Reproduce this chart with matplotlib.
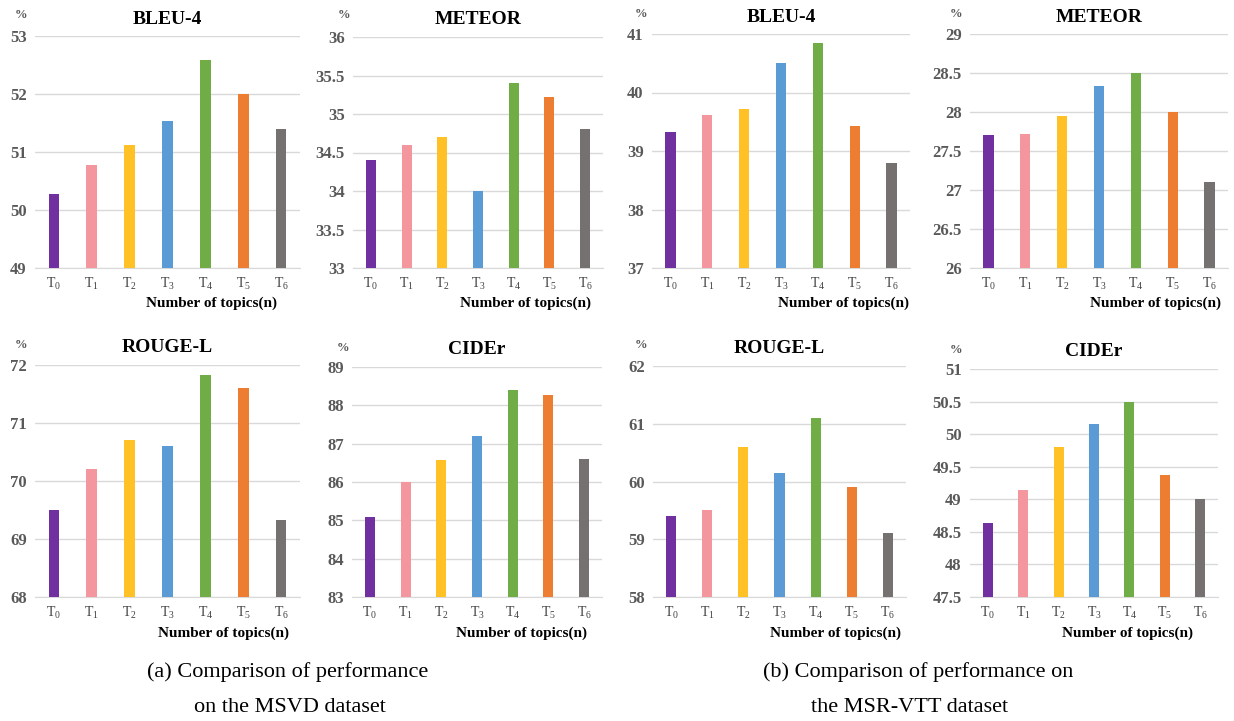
import numpy as np
import matplotlib
matplotlib.use("Agg")
import matplotlib.pyplot as plt
from matplotlib.ticker import FuncFormatter

plt.rcParams['font.family'] = ['Liberation Serif', 'DejaVu Serif']
plt.rcParams['mathtext.fontset'] = 'custom'
plt.rcParams['mathtext.rm'] = 'Liberation Serif'
plt.rcParams['mathtext.it'] = 'Liberation Serif:italic'
plt.rcParams['mathtext.bf'] = 'Liberation Serif:bold'
plt.rcParams['mathtext.default'] = 'rm'

topics = [f'T$_{{{i}}}$' for i in range(7)]
colors = ['#7030A0', '#F4969E', '#FFC125', '#5B9BD5', '#70AD47', '#ED7D31', '#767171']

# MSVD
msvd_bleu = [50.28, 50.78, 51.12, 51.53, 52.58, 52.0, 51.39]
msvd_meteor = [34.4, 34.6, 34.7, 34.0, 35.4, 35.22, 34.8]
msvd_rouge = [69.5, 70.2, 70.7, 70.6, 71.82, 71.6, 69.32]
msvd_cider = [85.1, 86.0, 86.58, 87.2, 88.4, 88.28, 86.6]
# MSR-VTT
vtt_bleu = [39.32, 39.62, 39.72, 40.5, 40.84, 39.42, 38.8]
vtt_meteor = [27.7, 27.72, 27.95, 28.33, 28.5, 28.0, 27.1]
vtt_rouge = [59.4, 59.5, 60.6, 60.15, 61.1, 59.9, 59.1]
vtt_cider = [48.63, 49.15, 49.8, 50.15, 50.5, 49.38, 49.0]

titles = ['BLEU-4', 'METEOR', 'BLEU-4', 'METEOR', 'ROUGE-L', 'CIDEr', 'ROUGE-L', 'CIDEr']
series = [msvd_bleu, msvd_meteor, vtt_bleu, vtt_meteor, msvd_rouge, msvd_cider, vtt_rouge, vtt_cider]
yranges = [(49, 53, 1), (33, 36, 0.5), (37, 41, 1), (26, 29, 0.5),
           (68, 72, 1), (83, 89, 1), (58, 62, 1), (47.5, 51, 0.5)]

W, H = 1234, 721
# axes boxes in pixels: left, right, top, bottom
boxes = [(35, 300, 36, 268), (353, 603, 37, 268), (652, 910, 34, 268), (970, 1228, 34, 268),
         (35, 300, 365, 597), (352, 602, 367, 597), (653, 906, 366, 597), (970, 1218, 369, 597)]
xlab_pos = [(211, 303), (525, 303), (843, 303), (1156, 303),
            (223, 633), (522, 633), (835, 633), (1128, 633)]
pct_pos = [(15, 15), (338, 15), (635, 14), (950, 14),
           (15, 345), (337, 348), (635, 345), (950, 350)]

fig = plt.figure(figsize=(W / 100, H / 100), dpi=100)

for k in range(8):
    l, r, t, b = boxes[k]
    ax = fig.add_axes([l / W, 1 - b / H, (r - l) / W, (b - t) / H])
    lo, hi, step = yranges[k]
    x = np.arange(7)
    vals = np.array(series[k])
    ax.bar(x, vals - lo, bottom=lo, width=0.28, color=colors, zorder=3)
    ax.set_xlim(-0.5, 6.5)
    ax.set_ylim(lo, hi)
    ax.set_yticks(np.arange(lo, hi + step / 2, step))
    ax.yaxis.set_major_formatter(FuncFormatter(lambda v, p: f'{v:g}'))
    ax.set_xticks(x)
    ax.set_xticklabels(topics, fontsize=10, color='#404040')
    for lbl in ax.get_yticklabels():
        lbl.set_fontsize(12)
        lbl.set_fontweight('bold')
        lbl.set_color('#595959')
    ax.tick_params(length=0, pad=6)
    ax.grid(axis='y', color='#D9D9D9', linewidth=1, zorder=0)
    for s in ['top', 'right', 'left']:
        ax.spines[s].set_visible(False)
    ax.spines['bottom'].set_color('#D9D9D9')
    ax.set_title(titles[k], fontsize=14, fontweight='bold', pad=9)
    fig.text(xlab_pos[k][0] / W, 1 - xlab_pos[k][1] / H, 'Number of topics(n)',
             ha='center', va='center', fontsize=11, fontweight='bold')
    fig.text(pct_pos[k][0] / W, 1 - pct_pos[k][1] / H, '%',
             ha='left', va='center', fontsize=9, fontweight='bold', color='#595959')

fig.text(288 / W, 1 - 672 / H, '(a) Comparison of performance', ha='center', va='center', fontsize=16)
fig.text(290 / W, 1 - 708 / H, 'on the MSVD dataset', ha='center', va='center', fontsize=16)
fig.text(918 / W, 1 - 672 / H, '(b) Comparison of performance on', ha='center', va='center', fontsize=16)
fig.text(910 / W, 1 - 708 / H, 'the MSR-VTT dataset', ha='center', va='center', fontsize=16)

fig.savefig('out.png', dpi=100, facecolor='white')
